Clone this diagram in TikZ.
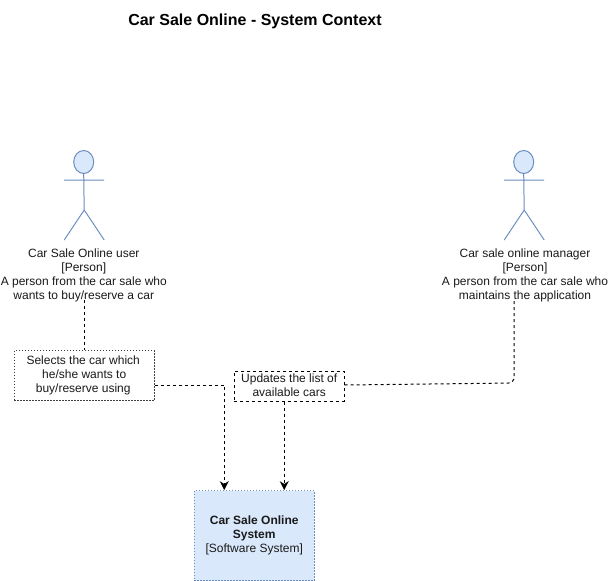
\documentclass[tikz,border=0pt]{standalone}
\usepackage{fontspec}
\setmainfont{Liberation Sans}
\usetikzlibrary{arrows.meta,shapes.geometric}
\definecolor{actorline}{HTML}{6C8EBF}
\definecolor{actorfill}{HTML}{DAE8FC}
\definecolor{inktext}{HTML}{1A1A1A}
\tikzset{
  x=1pt,y=-1pt,
  limb/.style={draw=actorline,line width=1pt},
  head/.style={draw=actorline,fill=actorfill,line width=1pt,ellipse,inner sep=0pt,minimum width=20pt,minimum height=23pt},
  actorlabel/.style={align=center,font=\fontsize{12}{14}\selectfont,text=inktext,inner sep=0pt},
  notebox/.style={align=center,font=\fontsize{12}{14}\selectfont,text=inktext,inner sep=0pt,minimum height=30pt},
  flow/.style={draw=black,line width=1pt,dash pattern=on 3pt off 3pt},
  flowarrow/.style={flow,-{Stealth[length=9pt,width=9pt]}},
}
\begin{document}
\begin{tikzpicture}
\useasboundingbox[fill=white] (0.8,0) rectangle (608.8,581);
\node[font=\fontsize{16}{19}\bfseries\selectfont,text=black,inner sep=0pt] (title) at (255.8,21) {Car Sale Online - System Context};

% left actor
\node[head] (headA) at (84.5,162) {};
\coordinate (armAl) at (65,180);
\coordinate (armAr) at (105,180);
\coordinate (hipA) at (85,210);
\coordinate (footAl) at (65,240);
\coordinate (footAr) at (105,240);
\draw[limb] (headA.south) -- (hipA) -- (footAl) (hipA) -- (footAr) (armAl) -- (armAr);
\node[actorlabel] (labelA) at (84.6,275.6) {Car Sale Online user\\{}[Person]\\A person from the car sale who\\wants to buy/reserve a car};

% right actor
\node[head] (headB) at (524.5,162) {};
\coordinate (armBl) at (505,180);
\coordinate (armBr) at (545,180);
\coordinate (hipB) at (525,210);
\coordinate (footBl) at (505,240);
\coordinate (footBr) at (545,240);
\draw[limb] (headB.south) -- (hipB) -- (footBl) (hipB) -- (footBr) (armBl) -- (armBr);
\node[actorlabel] (labelB) at (525.8,275.6) {Car sale online manager\\{}[Person]\\A person from the car sale who\\maintains the application};

% system
\node[draw=actorline,fill=actorfill,line width=0.8pt,dash pattern=on 1.5pt off 1.5pt,minimum width=120pt,minimum height=90pt,inner sep=0pt,align=center,font=\fontsize{12}{14}\selectfont,text=inktext] (sys) at (255,535.5) {\raisebox{-1pt}{\textbf{Car Sale Online}}\\\raisebox{-1pt}{\textbf{System}}\\\raisebox{-1pt}{[Software System]}};

% note boxes
\node[notebox,draw=black!75,line width=0.8pt,dash pattern=on 1.5pt off 1.5pt,minimum width=140pt,minimum height=50pt] (selects) at (85,375.5) {Selects the car which\hspace*{2pt}\\he/she wants to\hspace*{2pt}\\buy/reserve using\hspace*{2pt}};
\node[notebox,draw=black,line width=1pt,dash pattern=on 3pt off 3pt,minimum width=110pt] (updates) at (290,386) {\raisebox{1pt}{Updates the list of}\\\raisebox{1pt}{available cars}};

% connectors
\coordinate (startA) at (85,300);
\coordinate (startB) at (515,301);
\coordinate (bendA) at (225,385);
\coordinate (bendB) at (515,383);
\draw[flow] (startA) -- (startA |- selects.north);
\draw[flowarrow] (selects.east |- bendA) -- (bendA) -- (bendA |- sys.north);
\draw[flow,rounded corners=6pt] (startB) -- (bendB) -- (updates.east |- 0,385);
\draw[flowarrow] (updates.south -| 285,0) -- (285,0 |- sys.north);
\end{tikzpicture}
\end{document}
